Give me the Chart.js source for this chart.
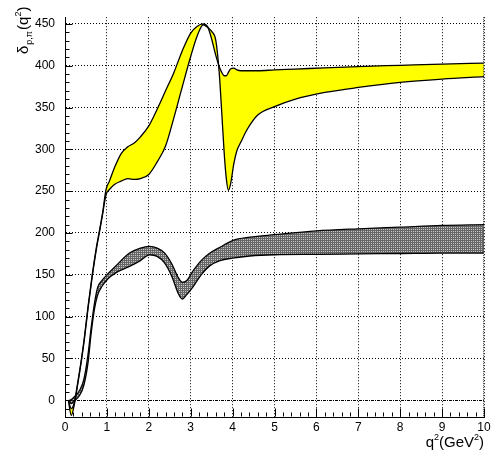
<!DOCTYPE html>
<html>
<head>
<meta charset="utf-8">
<script src="https://cdn.jsdelivr.net/npm/chart.js@4.4.1/dist/chart.umd.min.js"></script>
<style>
  body { margin: 0; background: #fff; }
  canvas { display: block; }
</style>
</head>
<body>
<canvas id="deltaChart" width="498" height="456"></canvas>
<script>
// yellow band: q^2 grid and the two edges
var qYellow = [0.08, 0.15, 0.22, 0.3, 0.4, 0.47, 0.55, 0.65, 0.75, 0.83, 0.9, 0.98, 1.06, 1.18, 1.34, 1.5, 1.66, 1.8,
  2.0, 2.2, 2.4, 2.6, 2.8, 3.0, 3.15, 3.3, 3.4, 3.5, 3.6, 3.68, 3.74, 3.8, 3.85, 3.9, 3.95, 4.03, 4.1, 4.2, 4.35, 4.6,
  5.0, 5.5, 6.2, 7.0, 8.0, 9.0, 10.0];
var yellowTop = [0, -10, -3, 20, 52, 78, 112, 150, 183, 205, 225, 252, 262, 278, 295, 303, 308, 315,
  328, 348, 370, 392, 418, 439, 447, 450, 447, 432, 412, 399, 392, 388, 388, 392, 396, 397, 395, 394, 394, 394,
  395, 396, 397.5, 399, 400.5, 402, 403];
var yellowBottom = [0, -18, -6, 18, 50, 76, 110, 148, 181, 203, 223, 246, 252, 258, 262, 265, 264, 265,
  270, 285, 304, 338, 375, 411, 435, 449, 446, 441, 430, 392, 345, 295, 265, 251, 258, 283, 298, 309, 324, 341,
  351, 360, 368, 374, 380, 384, 387];

// grey band
var qGrey = [0.1, 0.15, 0.2, 0.35, 0.45, 0.55, 0.62, 0.7, 0.78, 0.88, 1.02, 1.2, 1.54, 1.8, 2.02, 2.2, 2.38, 2.55,
  2.7, 2.8, 2.9, 3.06, 3.25, 3.46, 3.7, 4.0, 4.41, 5, 6, 7, 8, 9, 10];
var greyTop = [0, 1, 3, 12, 25, 55, 85, 115, 135, 143, 151, 160, 176, 182, 184, 182, 176, 163,
  147, 141, 143, 155, 167, 176, 183, 191, 195, 198, 202.5, 205, 207, 209, 210];
var greyBottom = [0, -4, -2, 6, 18, 45, 78, 108, 126, 136, 145, 152, 160, 167, 174, 172, 164, 148,
  128, 121, 126, 136, 150, 161, 167, 170, 172.5, 174, 174.5, 175, 175.5, 176, 176];

var xTicks = [0, 1, 2, 3, 4, 5, 6, 7, 8, 9, 10];
var yTicks = [0, 50, 100, 150, 200, 250, 300, 350, 400, 450];

var FONT = "'Liberation Sans', Arial, sans-serif";
Chart.defaults.font.family = FONT;
Chart.defaults.font.size = 12;
Chart.defaults.color = '#000';

function toPoints(xs, ys) {
  return xs.map(function(x, i) { return { x: x, y: ys[i] }; });
}

// dotted grey fill: dark ground with a grid of light dots
function makeHatch() {
  var c = document.createElement('canvas');
  c.width = 2; c.height = 2;
  var g = c.getContext('2d');
  g.fillStyle = '#666'; g.fillRect(0, 0, 2, 2);
  g.fillStyle = '#c8c8c8'; g.fillRect(1, 1, 1, 1);
  return g.createPattern(c, 'repeat');
}

// text made of runs (normal / superscript / subscript), left to right
function runsWidth(ctx, runs) {
  var w = 0;
  runs.forEach(function(r) { ctx.font = r.size + 'px ' + FONT; w += ctx.measureText(r.t).width + (r.gap || 0); });
  return w;
}
function drawRuns(ctx, runs, x, y) {
  runs.forEach(function(r) {
    ctx.font = r.size + 'px ' + FONT;
    ctx.fillText(r.t, x, y + (r.dy || 0));
    x += ctx.measureText(r.t).width + (r.gap || 0);
  });
}

var framePlugin = {
  id: 'frame',
  afterDraw: function(chart) {
    var ctx = chart.ctx, xs = chart.scales.x, ys = chart.scales.y, a = chart.chartArea;
    ctx.save();
    ctx.strokeStyle = '#000';
    ctx.lineWidth = 1;

    // zero line and right edge, densely dotted
    ctx.setLineDash([1, 1]);
    var y0 = Math.round(ys.getPixelForValue(0)) + 0.5;
    ctx.beginPath(); ctx.moveTo(a.left, y0); ctx.lineTo(a.right, y0); ctx.stroke();
    var xr = Math.round(xs.getPixelForValue(10)) - 0.5;
    ctx.strokeStyle = '#444';
    ctx.beginPath(); ctx.moveTo(xr, a.top); ctx.lineTo(xr, a.bottom); ctx.stroke();
    ctx.setLineDash([]);
    ctx.strokeStyle = '#000';

    // inward ticks on the left axis
    var lx = a.left + 0.5;
    for (var v = -20; v <= 450; v += 10) {
      var py = Math.round(ys.getPixelForValue(v)) + 0.5;
      var len = (v % 50 === 0) ? 7 : 4;
      ctx.beginPath(); ctx.moveTo(lx, py); ctx.lineTo(lx + len, py); ctx.stroke();
    }
    // inward ticks on the bottom axis
    var by = a.bottom - 0.5;
    for (var i = 0; i <= 50; i++) {
      var q = i / 5;
      var px = Math.round(xs.getPixelForValue(q)) + 0.5;
      var l2 = (i % 5 === 0) ? 8 : 4;
      ctx.beginPath(); ctx.moveTo(px, by); ctx.lineTo(px, by - l2); ctx.stroke();
    }

    ctx.fillStyle = '#000';
    ctx.textBaseline = 'alphabetic';
    ctx.textAlign = 'left';

    // x title, right aligned at the frame
    var xRuns = [
      { t: 'q', size: 15 }, { t: '2', size: 9, dy: -7 }, { t: '(GeV', size: 15 },
      { t: '2', size: 9, dy: -7 }, { t: ')', size: 15 }
    ];
    var w = runsWidth(ctx, xRuns);
    drawRuns(ctx, xRuns, a.right - w, 447);

    // y title, rotated
    ctx.translate(28, 54);
    ctx.rotate(-Math.PI / 2);
    drawRuns(ctx, [
      { t: 'δ', size: 15, gap: 1 }, { t: 'p,π', size: 9, dy: 4, gap: 1 },
      { t: '(q', size: 15 }, { t: '2', size: 9, dy: -7 }, { t: ')', size: 15 }
    ], 0, 0);
    ctx.restore();
  }
};

var ctx = document.getElementById('deltaChart').getContext('2d');
var hatch = makeHatch();
var lineStyle = {
  borderColor: '#000',
  borderWidth: 1.3,
  pointRadius: 0,
  cubicInterpolationMode: 'monotone'
};

new Chart(ctx, {
  type: 'line',
  data: {
    datasets: [
      Object.assign({ label: 'yellow top', data: toPoints(qYellow, yellowTop), fill: false }, lineStyle),
      Object.assign({ label: 'yellow bottom', data: toPoints(qYellow, yellowBottom), fill: '-1',
        backgroundColor: '#ffff00' }, lineStyle),
      Object.assign({ label: 'grey top', data: toPoints(qGrey, greyTop), fill: false }, lineStyle),
      Object.assign({ label: 'grey bottom', data: toPoints(qGrey, greyBottom), fill: '-1',
        backgroundColor: hatch }, lineStyle)
    ]
  },
  options: {
    responsive: false,
    animation: false,
    devicePixelRatio: 1,
    layout: { padding: { top: 0, right: 14, left: 0, bottom: 0 } },
    plugins: { legend: { display: false }, tooltip: { enabled: false } },
    scales: {
      x: {
        type: 'linear',
        min: 0,
        max: 10,
        afterBuildTicks: function(s) { s.ticks = xTicks.map(function(v) { return { value: v }; }); },
        afterFit: function(s) { s.height = 39; },
        ticks: { padding: 3, maxRotation: 0, autoSkip: false, font: { size: 12 } },
        grid: { color: '#000', lineWidth: 1, drawTicks: false },
        border: { display: true, color: '#000', width: 1, dash: [1, 2] }
      },
      y: {
        min: -20,
        max: 458,
        afterBuildTicks: function(s) { s.ticks = yTicks.map(function(v) { return { value: v }; }); },
        afterFit: function(s) { s.width = 65; },
        ticks: { padding: 10, autoSkip: false, font: { size: 12 } },
        grid: { color: '#000', lineWidth: 1, drawTicks: false },
        border: { display: true, color: '#000', width: 1, dash: [1, 2] }
      }
    }
  },
  plugins: [framePlugin]
});
</script>
</body>
</html>
